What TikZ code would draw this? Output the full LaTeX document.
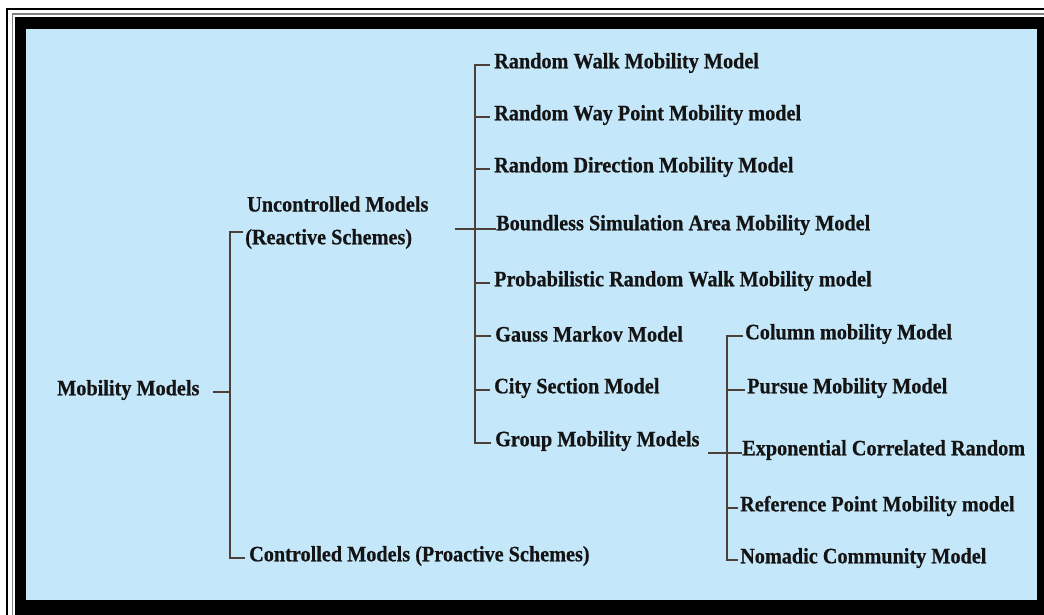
\documentclass[tikz,border=0pt]{standalone}
\usepackage{fontspec}
\setmainfont{Liberation Serif}[FakeStretch=0.92,FakeBold=0.6]
\definecolor{panel}{RGB}{197,231,250}
\definecolor{branch}{RGB}{78,64,54}
\definecolor{ink}{RGB}{20,20,20}
\begin{document}
\begin{tikzpicture}[x=1pt,y=-1pt,
  lbl/.style={font=\fontsize{22}{24}\selectfont\bfseries, text=ink, anchor=west, inner sep=0pt},
  br/.style={draw=branch, line width=2.2pt}]
\useasboundingbox (0,0) rectangle (1044,614);
\clip (0,0) rectangle (1044,614);
% frame: thin outer rule, grey rule, heavy black band, blue panel
\fill[white] (0,0) rectangle (1044,614);
\draw[black, line width=1.5pt] (7,9) rectangle (1060,630);
\draw[gray, line width=1.2pt] (12.5,14) rectangle (1060,630);
\fill[black] (15,17) rectangle (1060,630);
\fill[panel] (26,29) rectangle (1037,600);

% root
\node[lbl] (mob) at (57,390) {Mobility Models};
\node[lbl] (unc1) at (247,204) {Uncontrolled Models};
\node[lbl] (unc2) at (245,239) {(Reactive Schemes)};
\node[lbl] (ctl) at (249,556) {Controlled Models (Proactive Schemes)};

% uncontrolled models
\node[lbl] (rw)  at (494,63)  {Random Walk Mobility Model};
\node[lbl] (rwp) at (494,115) {Random Way Point Mobility model};
\node[lbl] (rd)  at (494,167) {Random Direction Mobility Model};
\node[lbl] (bsa) at (496,225) {Boundless Simulation Area Mobility Model};
\node[lbl] (prw) at (494,281) {Probabilistic Random Walk Mobility model};
\node[lbl] (gm)  at (495,334) {Gauss Markov Model};
\node[lbl] (cs)  at (494,388) {City Section Model};
\node[lbl] (grp) at (495,441) {Group Mobility Models};

% group mobility models
\node[lbl] (col) at (745,334) {Column mobility Model};
\node[lbl] (pur) at (747,388) {Pursue Mobility Model};
\node[lbl] (ecr) at (742,450) {Exponential Correlated Random};
\node[lbl] (rpm) at (740,506) {Reference Point Mobility model};
\node[lbl] (nom) at (740,558) {Nomadic Community Model};

% branch junctions
\coordinate (mobtick) at (213,392);
\coordinate (t1) at (230,392);
\coordinate (unctick) at (455,229);
\coordinate (t2) at (475,229);
\coordinate (grptick) at (708,453);
\coordinate (t3) at (727,453);

% level 1
\draw[br] (mobtick) -- (t1);
\draw[br] (unc2.west) ++(-2,-7) -| (t1);
\draw[br] (ctl.west) ++(-4,2) -| (t1);

% level 2
\draw[br] (unctick) -- (bsa.west |- unctick);
\foreach \n in {rw,rwp,rd,prw,gm,cs,grp}
  \draw[br] (\n.west) ++(-4,2) -| (t2);

% level 3
\draw[br] (grptick) -- (ecr.west |- t3);
\foreach \n in {col,pur,rpm,nom}
  \draw[br] (\n.west) ++(-2,2) -| (t3);
\end{tikzpicture}
\end{document}
